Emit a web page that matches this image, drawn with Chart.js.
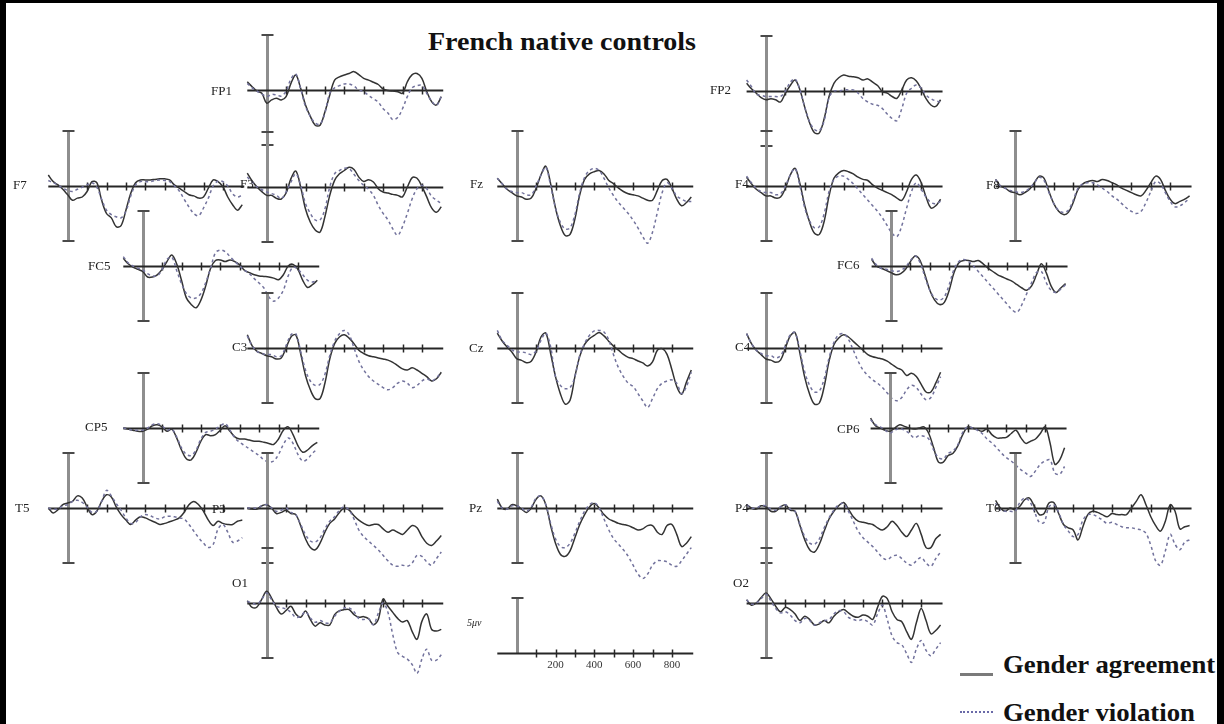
<!DOCTYPE html>
<html>
<head>
<meta charset="utf-8">
<title>French native controls</title>
<script src="https://cdn.jsdelivr.net/npm/chart.js@4.4.0/dist/chart.umd.min.js"></script>
<style>
  body { margin: 0; background: #fff; }
  #page { position: relative; width: 1224px; height: 724px; overflow: hidden; background: #fff; }
  #frame { position: absolute; left: 0; top: 0; width: 1224px; height: 724px; box-sizing: border-box;
           border: solid #000; border-width: 3px 7px 0 6px; pointer-events: none; }
  #page canvas { position: absolute; }
  .lbl { position: absolute; font: 13px 'Liberation Serif', serif; color: #222; line-height: 1;
         white-space: nowrap; transform: translateY(-50%); }
  #title { position: absolute; left: 362px; width: 400px; top: 29px; text-align: center;
           font: bold 25px 'Liberation Serif', serif; color: #111; line-height: 1;
           transform: scaleX(1.12); transform-origin: 200px 0; }
  .leg { position: absolute; left: 1003px; font: bold 25px 'Liberation Serif', serif; color: #111; line-height: 1;
         transform: scaleX(1.07); transform-origin: 0 0; white-space: nowrap; }
  .legline { position: absolute; left: 960px; width: 33px; height: 0; }
</style>
</head>
<body>
<div id="page">
  <div id="title">French native controls</div>
  <div class="legline" style="top:673px;border-top:3px solid #7a7a7a;"></div>
  <div class="leg" style="top:652px;">Gender agreement</div>
  <div class="legline" style="top:711px;border-top:2px dotted #6a6aa8;"></div>
  <div class="leg" style="top:700px;">Gender violation</div>
  <div id="frame"></div>
</div>
<script>
// sample times (ms)
const times = [-100,-75,-50,-25,0,25,50,75,100,125,150,175,200,225,250,275,300,325,350,375,400,
               425,450,475,500,525,550,575,600,625,650,675,700,725,750,775,800,825,850,875,900];
const tickTimes = [100,200,300,400,500,600,700,800];
const scaleTickLabels = [200,400,600,800];

// amplitudes in µV (negative plotted up)
const FP1_agree = [-0.75,-0.3,0.1,0.3,1.2,0.9,0.75,0.9,0.6,-0.6,-1.36,-0.15,1.36,2.4,3.2,3.2,2.0,0.45,-0.9,-1.2,-1.36,-1.5,-1.67,-1.4,-1.06,-0.9,-0.7,-0.5,-0.1,0.05,0.1,0.15,0.3,-0.75,-1.4,-1.5,-1.06,0.15,1.06,1.36,0.6];
const FP1_viol  = [-0.6,-0.2,0.1,0.35,0.6,0.4,0.45,0.55,0.1,-1.0,-1.45,-0.1,1.5,2.4,3.0,3.1,2.1,0.3,-0.2,-0.4,-0.55,-0.55,-0.35,0,0.15,0.5,0.8,1.1,1.7,2.1,2.7,2.5,1.7,0.6,-0.2,-0.4,-0.4,0.3,1.0,1.4,0.6];
const FP2_agree = [-0.7,-0.2,0.2,0.6,0.8,0.7,0.8,1.0,0.2,-0.5,-1.0,-0.1,1.5,2.9,3.8,3.8,2.5,0.5,-0.7,-1.2,-1.45,-1.35,-1.3,-1.2,-1.0,-1.1,-0.8,-0.5,0.06,0.2,0.5,0.67,-0.1,-1.0,-1.2,-0.9,-0.2,0.7,1.27,1.4,0.8];
const FP2_viol  = [-1.0,-0.4,0.3,0.4,0.5,0.5,0.5,0.5,0,-0.8,-1.1,-0.1,1.5,2.8,3.5,3.6,2.7,0.6,0,0,-0.1,-0.1,-0.1,0.2,0.7,1.0,1.2,1.3,1.6,2.1,2.5,2.7,1.6,0.2,-0.25,-0.55,-0.25,0.36,0.7,0.9,1.0];
const F7_agree  = [-1.0,-0.4,-0.1,0.3,0.8,1.3,1.1,1.0,0.5,-0.4,-0.3,1.3,2.5,2.9,3.7,3.6,2.2,0.67,-0.3,-0.55,-0.55,-0.55,-0.6,-0.65,-0.65,-0.55,-0.1,0.2,0.5,0.8,0.9,1.1,1.0,0.2,-0.55,-0.4,0.06,1.0,1.7,2.2,1.7];
const F7_viol   = [-0.5,-0.3,-0.1,0.2,0.4,0.5,0.3,0.1,-0.1,-0.3,0.1,1.2,2.2,2.6,2.8,2.9,2.3,0.9,-0.1,-0.4,-0.4,-0.4,-0.5,-0.55,-0.5,-0.4,0,0.45,1.2,1.9,2.5,2.7,2.0,1.1,0,-0.45,-0.4,0,0.7,1.0,0.8];
const F3_agree  = [-1.27,-0.55,0,0.42,0.76,0.76,1.03,1.1,0.55,-0.76,-1.45,0,2.0,3.2,3.9,4.1,2.7,0.76,-0.6,-1.2,-1.5,-1.8,-1.6,-0.9,-0.5,-0.67,-0.45,0.15,0.45,0.55,0.67,0.76,0.9,0,-0.85,-0.8,-0.06,0.9,1.9,2.3,1.8];
const F3_viol   = [-0.9,-0.45,0,0.25,0.45,0.6,0.75,1.06,0.45,-0.45,-1.2,-0.15,1.5,2.4,3.0,3.0,2.0,0,-1.2,-1.5,-1.7,-1.67,-1.15,-0.6,-0.15,0.2,0.75,1.67,2.4,3.0,3.8,4.4,3.6,2.4,1.06,0.15,-0.15,0.15,0.85,1.2,1.5];
const Fz_agree  = [-0.7,-0.2,0.3,0.6,0.9,1.0,1.2,1.1,0.2,-1.0,-1.8,-0.2,2.0,3.6,4.5,4.4,3.0,0.8,-0.6,-1.1,-1.3,-1.4,-1.1,-0.5,-0.2,0.2,0.5,0.7,0.8,0.9,1.1,1.3,1.3,0.4,-0.5,-0.6,0.2,1.2,1.8,1.5,1.0];
const Fz_viol   = [-0.7,-0.2,0.3,0.5,0.6,0.6,0.8,0.8,0,-1.0,-1.7,0,2.0,3.3,3.9,3.8,2.6,0.6,-0.8,-1.4,-1.6,-1.4,-0.7,0.2,0.9,1.5,2.0,2.5,3.1,3.8,4.6,5.2,4.2,2.4,0.6,-0.3,0.2,0.9,1.2,1.4,1.4];
const F4_agree  = [-0.8,-0.2,0.3,0.6,0.9,0.9,1.1,1.0,0.2,-1.0,-1.6,-0.2,1.8,3.3,4.3,4.4,3.2,0.9,-0.7,-1.2,-1.4,-1.3,-1.1,-0.8,-0.6,-0.5,-0.1,0.2,0.4,0.6,0.8,1.1,1.3,0.5,-0.6,-1.0,-0.3,1.0,2.0,1.8,1.2];
const F4_viol   = [-0.9,-0.3,0.2,0.5,0.6,0.6,0.8,0.7,0,-1.0,-1.6,0,2.0,3.2,3.8,3.7,2.5,0.5,-0.6,-0.9,-0.9,-0.6,-0.2,0.3,0.8,1.3,1.8,2.3,2.9,3.6,4.3,4.6,3.6,2.0,0.5,-0.3,0.3,1.0,1.5,1.6,1.4];
const F8_agree  = [-0.6,0,0.2,0.5,0.6,0.8,0.6,0.3,-0.3,-0.9,-0.7,0.5,1.6,2.3,2.6,2.4,1.5,0.3,-0.2,-0.4,-0.5,-0.4,-0.6,-0.5,-0.3,-0.1,0.2,0.4,0.6,0.8,0.9,0.4,-0.3,-0.9,-0.6,0.4,1.2,1.6,1.4,1.2,0.9];
const F8_viol   = [-0.6,0,0.2,0.4,0.5,0.6,0.5,0.2,-0.3,-0.8,-0.5,0.6,1.6,2.2,2.4,2.2,1.3,0.2,-0.2,-0.3,-0.3,-0.1,0.2,0.5,0.9,1.2,1.6,2.0,2.3,2.5,2.3,1.5,0.5,-0.4,-0.2,0.6,1.4,1.9,1.8,1.5,1.1];
const FC5_agree = [-0.7,-0.2,0.1,0.3,0.5,1.0,1.0,0.8,0.3,-0.4,-1.0,-0.2,1.3,2.9,3.5,3.8,3.1,1.8,0.2,-0.5,-0.55,-0.4,-0.55,-0.4,-0.1,0.4,0.6,0.8,0.9,0.95,1.0,1.1,1.25,0.8,0,-0.15,0.3,1.3,1.95,1.7,1.3];
const FC5_viol  = [-0.85,-0.3,0,0.2,0.35,0.7,0.9,0.9,0.3,-0.6,-0.8,0.4,1.6,2.5,2.9,2.9,2.5,1.5,0.2,-1.2,-1.45,-1.3,-0.85,-0.4,0,0.4,0.7,1.15,1.55,2.0,2.8,3.2,2.9,2.2,0.9,0.1,0.3,0.8,1.3,1.45,1.3];
const FC6_agree = [-0.6,0,0.2,0.4,0.6,0.8,0.7,0.3,-0.4,-0.9,-0.5,0.8,2.2,3.1,3.5,3.3,2.2,0.6,-0.3,-0.5,-0.5,-0.4,-0.5,-0.2,0.2,0.5,0.8,1.0,1.2,1.4,1.7,2.0,2.2,1.8,0.8,-0.2,0.6,1.8,2.4,2.0,1.6];
const FC6_viol  = [-0.7,-0.1,0.2,0.3,0.4,0.5,0.4,0.1,-0.5,-0.9,-0.3,1.0,2.2,2.9,3.1,2.8,1.7,0.3,-0.4,-0.6,-0.4,0,0.5,1.0,1.5,2.0,2.5,3.0,3.5,4.0,4.2,3.5,2.5,1.5,0.6,0.5,1.5,2.2,2.4,2.1,1.7];
const C3_agree  = [-1.2,-0.2,0.3,0.5,0.7,0.8,1.0,0.9,0,-1.0,-1.2,0.5,2.5,3.8,4.6,4.6,3.2,1.0,-0.4,-1.0,-1.2,-0.9,-0.4,0.2,0.5,0.7,0.8,0.9,1.0,1.1,1.3,1.6,1.9,2.0,1.8,2.0,2.3,2.6,3.0,2.8,2.2];
const C3_viol   = [-1.1,-0.2,0.3,0.5,0.6,0.6,0.8,0.7,-0.2,-1.2,-1.3,0.3,2.0,3.0,3.4,3.3,2.4,0.7,-0.6,-1.3,-1.6,-1.2,0,1.2,2.0,2.6,3.0,3.3,3.6,3.8,3.6,3.2,3.0,3.2,3.6,3.4,3.0,2.8,3.0,2.7,2.2];
const Cz_agree  = [-1.36,-0.64,-0.1,0.36,0.97,1.12,1.33,1.2,0.36,-1.0,-1.36,0.5,2.6,4.15,5.1,4.75,2.6,0.76,-0.33,-0.85,-1.15,-1.4,-1.1,-0.6,-0.15,0.2,0.58,0.85,0.97,1.18,1.36,1.64,1.27,0.2,0.06,0.58,1.97,3.5,4.2,3.1,2.0];
const Cz_viol   = [-1.6,-0.7,-0.25,0.15,0.36,0.36,0.45,0.6,0.27,-0.7,-1.36,-0.1,2.6,3.4,3.7,3.6,2.6,0.67,-0.4,-1.15,-1.55,-1.6,-1.45,-0.7,0.67,1.8,2.6,3.2,3.5,4.15,4.8,5.4,4.6,3.7,3.2,3.0,2.9,3.2,4.15,3.5,2.2];
const C4_agree  = [-1.3,-0.4,0.2,0.6,1.0,1.1,1.3,1.1,0,-1.1,-1.4,0.5,2.7,4.2,5.1,5.0,3.5,1.2,-0.3,-0.9,-1.2,-1.0,-0.6,-0.2,0.2,0.6,0.8,0.9,1.0,1.2,1.5,1.8,2.0,2.5,2.3,2.6,3.3,4.0,4.0,3.2,2.2];
const C4_viol   = [-1.3,-0.4,0.2,0.5,0.7,0.7,0.9,0.7,-0.2,-1.2,-1.4,0.3,2.2,3.4,4.0,3.9,2.8,0.9,-0.5,-1.2,-1.3,-0.8,0.2,1.2,2.0,2.5,2.9,3.2,3.6,4.1,4.6,4.8,4.5,3.8,3.4,3.6,4.2,4.7,4.5,3.6,2.6];
const CP5_agree = [0,0.1,0.2,0.3,0.3,0.1,-0.2,-0.3,-0.1,0.3,0.1,0.9,2.0,2.8,2.9,2.2,1.2,0.6,0.7,0.6,0.2,-0.2,0.3,0.8,1.0,1.0,1.1,1.2,1.2,1.3,1.4,1.5,1.0,0.2,-0.1,0.6,1.6,2.2,2.0,1.6,1.3];
const CP5_viol  = [0,0.1,0.2,0.2,0.2,0,-0.3,-0.4,-0.2,0.2,0.1,0.8,1.8,2.4,2.5,2.0,1.0,0.4,0.3,0.1,-0.2,-0.4,0.2,0.9,1.3,1.6,1.9,2.2,2.5,2.9,3.1,3.0,2.4,1.5,0.9,1.4,2.4,3.0,2.8,2.3,1.9];
const CP6_agree = [-0.9,-0.2,0,0.2,0.3,0,-0.3,-0.15,0,0.1,0,-0.1,0.5,1.8,3.1,3.1,2.5,2.3,1.6,0.6,-0.1,0,0.15,0.3,0.1,0.6,0.9,0.9,0.85,0.5,0.2,0.9,1.4,1.2,1.0,0.5,-0.1,1.36,3.3,2.9,1.8];
const CP6_viol  = [-0.75,-0.3,-0.1,0.2,0.45,0.2,0.05,0.2,0.5,0.9,0.7,0.75,1.0,2.0,2.7,2.8,2.3,2.1,1.5,0.4,-0.1,0,0.2,0.5,1.0,1.36,1.8,2.3,2.7,3.0,3.4,3.8,4.1,4.4,3.9,3.3,3.0,2.9,4.1,4.2,3.5];
const T5_agree  = [0,0.45,0.15,-0.3,-0.45,-0.6,-1.1,-0.9,-0.1,0.6,0.3,-0.6,-1.2,-1.0,-0.1,0.6,1.1,1.5,1.1,0.8,0.9,1.1,1.3,1.5,1.4,1.25,1.1,0.9,0.4,-0.3,-0.6,-0.3,0.3,1.1,1.6,1.2,1.4,1.5,1.5,1.2,1.1];
const T5_viol   = [0,0.1,0.1,-0.2,-0.3,-0.6,-0.7,-0.5,-0.1,0.4,0.3,-0.6,-1.6,-1.1,-0.4,0.2,0.9,1.4,1.3,0.8,0.6,0.7,0.9,1.0,0.8,0.75,0.8,0.9,1.0,1.5,2.1,2.7,3.2,3.6,3.3,1.9,1.5,2.2,3.1,3.0,2.7];
const P3_agree  = [0,0.1,0.1,-0.2,-0.3,0,0.5,0.4,0.2,0.5,0.6,1.6,2.8,3.6,3.8,3.2,2.2,1.4,1.0,0.4,0,0.2,0.7,1.1,1.4,1.6,1.5,1.5,1.9,2.2,2.0,2.2,2.4,2.0,1.6,1.8,2.6,3.2,3.4,3.0,2.5];
const P3_viol   = [0,0,0,-0.2,-0.3,0,0.3,0.2,0,0.4,0.6,1.5,2.4,3.0,3.1,2.7,1.9,1.2,0.8,0.2,-0.1,0.2,1.0,2.0,2.6,3.0,3.4,3.8,4.3,4.8,5.2,5.3,5.2,5.3,5.0,4.3,4.4,4.9,5.2,4.6,4.0];
const Pz_agree  = [-0.8,0,0.1,-0.3,-0.2,0.1,0.4,0,-0.8,-1.1,-0.3,1.6,3.2,4.2,4.4,3.9,2.7,1.5,0.6,-0.1,-0.4,0,0.6,1.0,1.2,1.4,1.5,1.6,1.8,2.0,1.9,1.6,1.6,2.2,2.4,1.6,1.5,2.4,3.5,3.2,2.6];
const Pz_viol   = [-0.6,0,0.1,-0.2,-0.2,0,0.3,-0.1,-0.9,-1.1,-0.3,1.4,2.8,3.5,3.6,3.2,2.3,1.2,0.3,-0.3,-0.5,0,1.0,2.0,2.8,3.3,3.8,4.4,5.2,6.0,6.4,6.0,5.2,4.8,4.8,4.9,5.2,5.3,4.8,4.2,3.6];
const P4_agree  = [-0.3,0,0.1,-0.2,-0.1,0.3,0.3,-0.1,-0.3,0.2,0.3,1.6,2.9,3.8,4.0,3.3,2.1,1.0,0.3,-0.2,-0.5,0.1,0.8,1.2,1.3,1.4,1.5,1.8,2.0,1.7,1.2,1.6,2.2,2.6,2.0,1.4,2.4,3.6,3.6,2.8,2.4];
const P4_viol   = [-0.3,0,0,-0.2,-0.2,0.1,0.2,-0.1,-0.3,0.1,0.3,1.5,2.6,3.2,3.3,2.8,1.8,0.9,0.2,-0.3,-0.4,0.3,1.2,2.1,2.7,3.1,3.5,4.0,4.5,4.7,4.4,4.3,4.6,5.0,5.2,4.8,4.5,5.0,5.3,4.6,4.0];
const T6_agree  = [-0.7,0,0.3,0,0.15,-0.15,-0.75,-0.9,-0.15,0.6,0.5,-0.45,-0.5,0.5,1.5,1.8,2.0,2.9,1.7,0.6,0.3,0.4,0.6,0.8,0.5,0.6,0.6,0.6,0,-0.6,-1.2,-0.3,0.8,1.6,2.1,1.2,-0.3,0.3,1.9,1.7,1.6];
const T6_viol   = [-0.45,0.2,0.3,0.3,0.3,-0.5,-0.9,-0.6,0.3,1.3,1.3,-0.1,-0.3,0.4,1.5,2.1,2.6,2.4,1.1,0.6,0.6,0.8,1.1,1.4,1.3,1.5,1.7,1.8,1.8,1.9,2.0,2.3,3.4,4.8,5.2,3.9,2.4,3.3,3.8,3.1,2.9];
const O1_agree  = [-0.2,0.4,0.36,-0.36,-1.06,-0.45,0.4,1.0,0.67,0.3,1.0,1.3,0.73,1.5,2.1,1.8,2.0,2.0,1.06,0.7,0.6,0.6,1.06,1.3,1.24,1.42,1.97,1.5,-0.36,0.3,0.85,1.4,1.73,1.6,2.6,3.3,1.67,1.0,2.4,2.55,2.4];
const O1_viol   = [-0.15,0,0.12,-0.36,-0.9,-0.3,0.3,0.42,0.55,0.85,1.3,1.2,0.8,1.36,1.75,1.6,1.8,1.8,1.2,0.75,0.45,0.45,0.8,1.42,1.5,1.45,1.97,0.94,0,0.85,2.9,4.5,4.85,5.1,5.6,6.4,5.1,4.2,5.2,5.2,4.7];
const O2_agree  = [-0.3,0.2,0,-0.5,-0.9,-0.4,0.3,0.8,0.4,0.6,1.0,1.6,1.2,1.5,2.0,1.9,1.6,1.8,1.2,0.8,0.6,0.9,1.2,1.3,1.1,1.2,1.5,0.4,-0.6,-0.4,0.8,1.5,1.7,2.6,3.3,1.8,0.5,1.6,2.8,2.5,2.0];
const O2_viol   = [-0.3,0.1,0,-0.4,-0.8,-0.2,0.5,0.9,0.8,1.1,1.6,1.8,1.4,1.6,2.0,1.8,1.6,1.5,1.0,0.7,0.8,1.3,1.5,1.6,1.5,1.7,2.0,1.0,0.2,1.5,3.0,3.6,3.8,4.6,5.4,4.2,3.4,4.3,4.8,4.2,3.6];

// page layout: zero-time x, baseline y, label position
const PX_PER_MS = 0.194, PX_PER_UV = 11;
const panels = [
  { name: 'FP1', agree: FP1_agree, viol: FP1_viol, cx: 266.7, cy: 90,  lx: 211, ly: 90 },
  { name: 'FP2', agree: FP2_agree, viol: FP2_viol, cx: 766,   cy: 91,  lx: 710, ly: 89 },
  { name: 'F7',  agree: F7_agree,  viol: F7_viol,  cx: 67.7,  cy: 186, lx: 13,  ly: 184 },
  { name: 'F3',  agree: F3_agree,  viol: F3_viol,  cx: 266.7, cy: 187, lx: 240, ly: 183 },
  { name: 'Fz',  agree: Fz_agree,  viol: Fz_viol,  cx: 516.7, cy: 186, lx: 470, ly: 183 },
  { name: 'F4',  agree: F4_agree,  viol: F4_viol,  cx: 766,   cy: 186, lx: 735, ly: 183 },
  { name: 'F8',  agree: F8_agree,  viol: F8_viol,  cx: 1015,  cy: 186, lx: 986, ly: 184 },
  { name: 'FC5', agree: FC5_agree, viol: FC5_viol, cx: 142.7, cy: 266, lx: 88,  ly: 265 },
  { name: 'FC6', agree: FC6_agree, viol: FC6_viol, cx: 891,   cy: 266, lx: 837, ly: 264 },
  { name: 'C3',  agree: C3_agree,  viol: C3_viol,  cx: 266.7, cy: 348, lx: 232, ly: 346 },
  { name: 'Cz',  agree: Cz_agree,  viol: Cz_viol,  cx: 516.7, cy: 348, lx: 469, ly: 347 },
  { name: 'C4',  agree: C4_agree,  viol: C4_viol,  cx: 766,   cy: 348, lx: 735, ly: 346 },
  { name: 'CP5', agree: CP5_agree, viol: CP5_viol, cx: 142.7, cy: 428, lx: 85,  ly: 426 },
  { name: 'CP6', agree: CP6_agree, viol: CP6_viol, cx: 890,   cy: 428, lx: 837, ly: 428 },
  { name: 'T5',  agree: T5_agree,  viol: T5_viol,  cx: 67.7,  cy: 508, lx: 15,  ly: 507 },
  { name: 'P3',  agree: P3_agree,  viol: P3_viol,  cx: 266.7, cy: 508, lx: 212, ly: 508 },
  { name: 'Pz',  agree: Pz_agree,  viol: Pz_viol,  cx: 516.7, cy: 508, lx: 469, ly: 507 },
  { name: 'P4',  agree: P4_agree,  viol: P4_viol,  cx: 766,   cy: 508, lx: 735, ly: 507 },
  { name: 'T6',  agree: T6_agree,  viol: T6_viol,  cx: 1015,  cy: 508, lx: 986, ly: 507 },
  { name: 'O1',  agree: O1_agree,  viol: O1_viol,  cx: 266.7, cy: 603, lx: 232, ly: 582 },
  { name: 'O2',  agree: O2_agree,  viol: O2_viol,  cx: 766,   cy: 603, lx: 733, ly: 582 }
];
const scalePanel = { name: '5\u03bcv', cx: 516.7, cy: 653, lx: 467, ly: 623 };

// draws the electrode cross: grey amplitude bar with caps, black time line with 100 ms ticks
const eegAxes = {
  id: 'eegAxes',
  beforeDatasetsDraw(chart, args, o) {
    const ctx = chart.ctx, xs = chart.scales.x, ys = chart.scales.y;
    const x0 = Math.round(xs.getPixelForValue(0)) + 0.5;
    const yb = Math.round(ys.getPixelForValue(0)) + 0.5;
    const line = (a, b, c, d) => { ctx.beginPath(); ctx.moveTo(a, b); ctx.lineTo(c, d); ctx.stroke(); };
    ctx.save();
    const yTop = ys.getPixelForValue(-5), yBot = ys.getPixelForValue(o.halfBar ? 0 : 5);
    ctx.strokeStyle = '#8e8e8e'; ctx.lineWidth = 3;
    line(x0, yTop, x0, yBot);
    ctx.strokeStyle = '#4a4a4a'; ctx.lineWidth = 2;
    line(x0 - 6, yTop, x0 + 6, yTop);
    if (!o.halfBar) line(x0 - 6, yBot, x0 + 6, yBot);

    ctx.strokeStyle = '#262626'; ctx.lineWidth = 2;
    line(xs.getPixelForValue(-100), yb, xs.getPixelForValue(910), yb);
    ctx.lineWidth = 1.5;
    tickTimes.forEach(t => {
      const px = Math.round(xs.getPixelForValue(t)) + 0.5;
      line(px, yb - 4, px, yb + 4);
    });
    if (o.tickLabels) {
      ctx.fillStyle = '#333';
      ctx.font = '11px "Liberation Serif", serif';
      ctx.textAlign = 'center';
      ctx.textBaseline = 'middle';
      o.tickLabels.forEach(t => ctx.fillText(String(t), xs.getPixelForValue(t), yb + 12));
    }
    ctx.restore();
  }
};

const page = document.getElementById('page');
const W = 240, H = 190, OFF_X = 40, OFF_Y = 85;

function addLabel(text, x, y) {
  const d = document.createElement('div');
  d.className = 'lbl';
  d.textContent = text;
  d.style.left = x + 'px';
  d.style.top = y + 'px';
  page.appendChild(d);
}

function makePanel(p, datasets, extra) {
  const cv = document.createElement('canvas');
  const left = Math.floor(p.cx) - OFF_X, top = Math.round(p.cy) - OFF_Y;
  cv.width = W; cv.height = H;
  cv.style.left = left + 'px'; cv.style.top = top + 'px';
  cv.style.width = W + 'px'; cv.style.height = H + 'px';
  page.insertBefore(cv, document.getElementById('frame'));
  const xMin = -(p.cx - left) / PX_PER_MS;
  const yMin = -(p.cy - top) / PX_PER_UV;
  new Chart(cv, {
    type: 'line',
    data: { datasets: datasets },
    options: {
      responsive: false,
      animation: false,
      devicePixelRatio: 1,
      layout: { padding: 0 },
      events: [],
      plugins: { legend: { display: false }, tooltip: { enabled: false }, eegAxes: extra || {} },
      scales: {
        x: { type: 'linear', display: false, min: xMin, max: xMin + W / PX_PER_MS },
        y: { type: 'linear', display: false, reverse: true, min: yMin, max: yMin + H / PX_PER_UV }
      }
    },
    plugins: [eegAxes]
  });
}

function series(vals, viol) {
  return {
    data: times.map((t, i) => ({ x: t, y: vals[i] })),
    borderColor: viol ? '#72729c' : '#333333',
    borderWidth: 1.5,
    borderDash: viol ? [3, 3] : [],
    pointRadius: 0,
    tension: 0.35,
    fill: false,
    clip: false
  };
}

panels.forEach(p => {
  makePanel(p, [series(p.viol, true), series(p.agree, false)]);
});
makePanel(scalePanel, [], { halfBar: true, tickLabels: scaleTickLabels });

panels.forEach(p => addLabel(p.name, p.lx, p.ly));
const sl = document.createElement('div');
sl.className = 'lbl';
sl.style.cssText = 'left:467px;top:623px;font-size:10px;font-style:italic;';
sl.textContent = scalePanel.name;
page.appendChild(sl);
</script>
</body>
</html>
